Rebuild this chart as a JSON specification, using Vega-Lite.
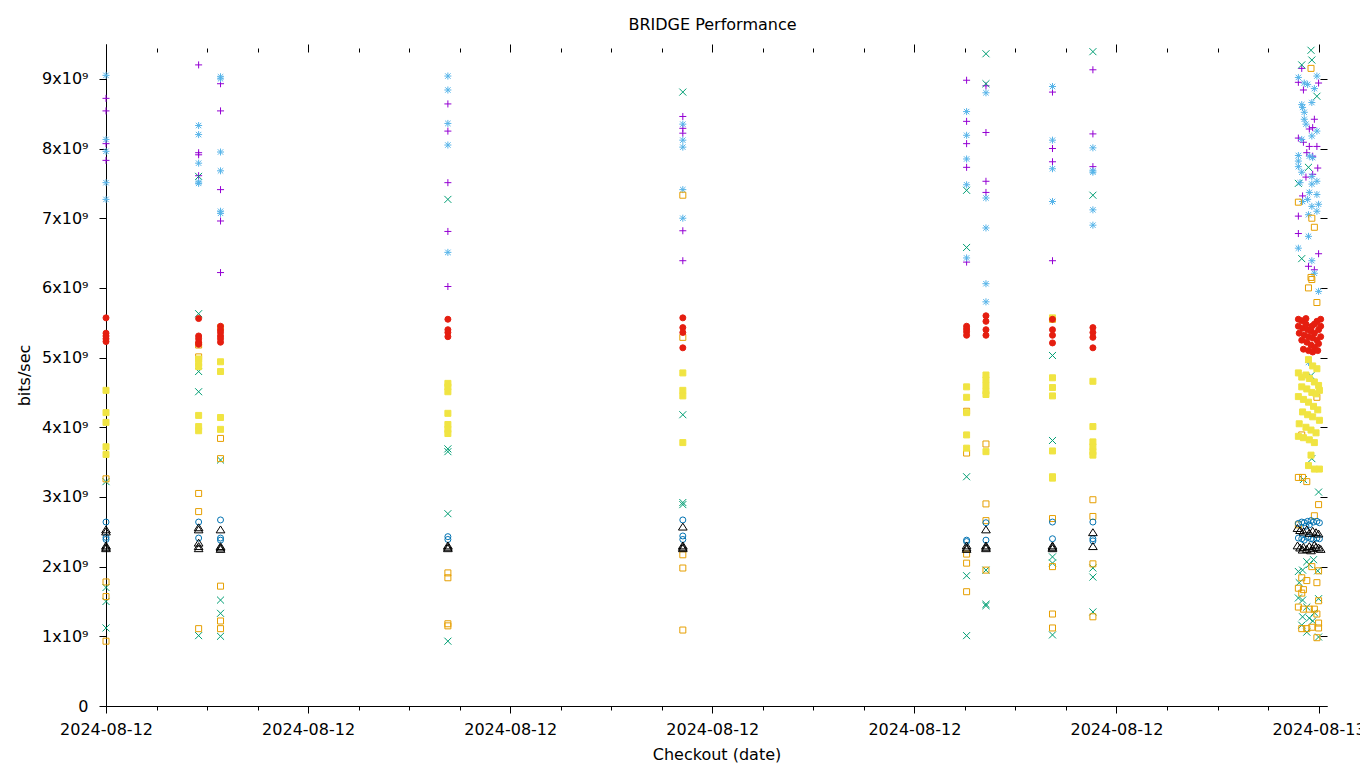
{
  "$schema": "https://vega.github.io/schema/vega-lite/v6.json",
  "width": 1221,
  "height": 662,
  "autosize": {"type": "none"},
  "padding": {"left": 106, "top": 44, "right": 33, "bottom": 62},
  "background": "white",
  "config": {"view": {"stroke": null}, "font": "DejaVu Sans"},
  "title": {"text": "BRIDGE Performance", "font": "DejaVu Sans", "fontSize": 16, "fontWeight": "normal", "color": "black", "anchor": "middle", "dx": -4, "offset": -2, "baseline": "alphabetic"},
  "data": {"values": [
    {"t":"2024-08-12T00:00:00Z","s":"s1","v":8.72e9},{"t":"2024-08-12T00:00:00Z","s":"s1","v":8.54e9},{"t":"2024-08-12T00:00:00Z","s":"s1","v":8.07e9},{"t":"2024-08-12T00:00:00Z","s":"s1","v":7.83e9},
    {"t":"2024-08-12T01:50:00Z","s":"s1","v":9.20e9},{"t":"2024-08-12T01:50:00Z","s":"s1","v":7.94e9},{"t":"2024-08-12T01:50:00Z","s":"s1","v":7.91e9},{"t":"2024-08-12T01:50:00Z","s":"s1","v":7.61e9},
    {"t":"2024-08-12T02:16:00Z","s":"s1","v":8.93e9},{"t":"2024-08-12T02:16:00Z","s":"s1","v":8.54e9},{"t":"2024-08-12T02:16:00Z","s":"s1","v":7.41e9},{"t":"2024-08-12T02:16:00Z","s":"s1","v":6.96e9},{"t":"2024-08-12T02:16:00Z","s":"s1","v":6.22e9},
    {"t":"2024-08-12T06:46:00Z","s":"s1","v":8.64e9},{"t":"2024-08-12T06:46:00Z","s":"s1","v":8.25e9},{"t":"2024-08-12T06:46:00Z","s":"s1","v":7.51e9},{"t":"2024-08-12T06:46:00Z","s":"s1","v":6.81e9},{"t":"2024-08-12T06:46:00Z","s":"s1","v":6.02e9},
    {"t":"2024-08-12T11:25:00Z","s":"s1","v":8.46e9},{"t":"2024-08-12T11:25:00Z","s":"s1","v":8.29e9},{"t":"2024-08-12T11:25:00Z","s":"s1","v":8.22e9},{"t":"2024-08-12T11:25:00Z","s":"s1","v":6.82e9},{"t":"2024-08-12T11:25:00Z","s":"s1","v":6.39e9},
    {"t":"2024-08-12T17:02:00Z","s":"s1","v":8.98e9},{"t":"2024-08-12T17:02:00Z","s":"s1","v":8.39e9},{"t":"2024-08-12T17:02:00Z","s":"s1","v":8.07e9},{"t":"2024-08-12T17:02:00Z","s":"s1","v":7.73e9},{"t":"2024-08-12T17:02:00Z","s":"s1","v":6.37e9},
    {"t":"2024-08-12T17:25:00Z","s":"s1","v":8.90e9},{"t":"2024-08-12T17:25:00Z","s":"s1","v":8.23e9},{"t":"2024-08-12T17:25:00Z","s":"s1","v":7.53e9},{"t":"2024-08-12T17:25:00Z","s":"s1","v":7.37e9},
    {"t":"2024-08-12T18:44:00Z","s":"s1","v":8.81e9},{"t":"2024-08-12T18:44:00Z","s":"s1","v":8.00e9},{"t":"2024-08-12T18:44:00Z","s":"s1","v":7.81e9},{"t":"2024-08-12T18:44:00Z","s":"s1","v":6.39e9},
    {"t":"2024-08-12T19:32:00Z","s":"s1","v":9.13e9},{"t":"2024-08-12T19:32:00Z","s":"s1","v":8.21e9},{"t":"2024-08-12T19:32:00Z","s":"s1","v":7.74e9},
    {"t":"2024-08-12T23:40:00Z","s":"s1","v":9.15e9},{"t":"2024-08-13T00:00:00Z","s":"s1","v":8.94e9},{"t":"2024-08-12T23:42:00Z","s":"s1","v":8.84e9},{"t":"2024-08-12T23:36:00Z","s":"s1","v":8.95e9},{"t":"2024-08-12T23:55:00Z","s":"s1","v":8.42e9},{"t":"2024-08-12T23:49:00Z","s":"s1","v":8.28e9},{"t":"2024-08-12T23:53:00Z","s":"s1","v":8.30e9},{"t":"2024-08-12T23:36:00Z","s":"s1","v":8.15e9},{"t":"2024-08-12T23:42:00Z","s":"s1","v":8.09e9},{"t":"2024-08-12T23:49:00Z","s":"s1","v":8.03e9},{"t":"2024-08-12T23:58:00Z","s":"s1","v":8.03e9},{"t":"2024-08-12T23:46:00Z","s":"s1","v":7.94e9},{"t":"2024-08-12T23:53:00Z","s":"s1","v":7.89e9},{"t":"2024-08-12T23:59:00Z","s":"s1","v":7.72e9},{"t":"2024-08-12T23:45:00Z","s":"s1","v":7.59e9},{"t":"2024-08-12T23:53:00Z","s":"s1","v":7.63e9},{"t":"2024-08-12T23:41:00Z","s":"s1","v":7.32e9},{"t":"2024-08-12T23:36:00Z","s":"s1","v":7.03e9},{"t":"2024-08-12T23:36:00Z","s":"s1","v":6.78e9},{"t":"2024-08-13T00:00:00Z","s":"s1","v":6.49e9},{"t":"2024-08-12T23:48:00Z","s":"s1","v":6.31e9},{"t":"2024-08-12T23:55:00Z","s":"s1","v":6.26e9},

    {"t":"2024-08-12T00:00:00Z","s":"s2","v":3.22e9},{"t":"2024-08-12T00:00:00Z","s":"s2","v":1.70e9},{"t":"2024-08-12T00:00:00Z","s":"s2","v":1.50e9},{"t":"2024-08-12T00:00:00Z","s":"s2","v":1.12e9},
    {"t":"2024-08-12T01:50:00Z","s":"s2","v":7.60e9},{"t":"2024-08-12T01:50:00Z","s":"s2","v":5.63e9},{"t":"2024-08-12T01:50:00Z","s":"s2","v":4.80e9},{"t":"2024-08-12T01:50:00Z","s":"s2","v":4.51e9},{"t":"2024-08-12T01:50:00Z","s":"s2","v":1.01e9},
    {"t":"2024-08-12T02:16:00Z","s":"s2","v":3.53e9},{"t":"2024-08-12T02:16:00Z","s":"s2","v":1.52e9},{"t":"2024-08-12T02:16:00Z","s":"s2","v":1.33e9},{"t":"2024-08-12T02:16:00Z","s":"s2","v":1.00e9},
    {"t":"2024-08-12T06:46:00Z","s":"s2","v":7.27e9},{"t":"2024-08-12T06:46:00Z","s":"s2","v":3.69e9},{"t":"2024-08-12T06:46:00Z","s":"s2","v":3.65e9},{"t":"2024-08-12T06:46:00Z","s":"s2","v":2.76e9},{"t":"2024-08-12T06:46:00Z","s":"s2","v":0.93e9},
    {"t":"2024-08-12T11:25:00Z","s":"s2","v":8.81e9},{"t":"2024-08-12T11:25:00Z","s":"s2","v":4.18e9},{"t":"2024-08-12T11:25:00Z","s":"s2","v":2.92e9},{"t":"2024-08-12T11:25:00Z","s":"s2","v":2.89e9},
    {"t":"2024-08-12T17:02:00Z","s":"s2","v":7.40e9},{"t":"2024-08-12T17:02:00Z","s":"s2","v":6.58e9},{"t":"2024-08-12T17:02:00Z","s":"s2","v":3.29e9},{"t":"2024-08-12T17:02:00Z","s":"s2","v":1.87e9},{"t":"2024-08-12T17:02:00Z","s":"s2","v":1.01e9},
    {"t":"2024-08-12T17:25:00Z","s":"s2","v":9.36e9},{"t":"2024-08-12T17:25:00Z","s":"s2","v":8.93e9},{"t":"2024-08-12T17:25:00Z","s":"s2","v":1.95e9},{"t":"2024-08-12T17:25:00Z","s":"s2","v":1.46e9},{"t":"2024-08-12T17:25:00Z","s":"s2","v":1.44e9},
    {"t":"2024-08-12T18:44:00Z","s":"s2","v":5.03e9},{"t":"2024-08-12T18:44:00Z","s":"s2","v":3.81e9},{"t":"2024-08-12T18:44:00Z","s":"s2","v":2.14e9},{"t":"2024-08-12T18:44:00Z","s":"s2","v":2.05e9},{"t":"2024-08-12T18:44:00Z","s":"s2","v":1.02e9},
    {"t":"2024-08-12T19:32:00Z","s":"s2","v":9.39e9},{"t":"2024-08-12T19:32:00Z","s":"s2","v":7.33e9},{"t":"2024-08-12T19:32:00Z","s":"s2","v":1.98e9},{"t":"2024-08-12T19:32:00Z","s":"s2","v":1.85e9},{"t":"2024-08-12T19:32:00Z","s":"s2","v":1.35e9},
    {"t":"2024-08-12T23:51:00Z","s":"s2","v":9.41e9},{"t":"2024-08-12T23:52:00Z","s":"s2","v":9.27e9},{"t":"2024-08-12T23:40:00Z","s":"s2","v":9.20e9},{"t":"2024-08-12T23:58:00Z","s":"s2","v":8.75e9},{"t":"2024-08-12T23:36:00Z","s":"s2","v":7.50e9},{"t":"2024-08-12T23:48:00Z","s":"s2","v":7.73e9},{"t":"2024-08-12T23:40:00Z","s":"s2","v":6.42e9},{"t":"2024-08-12T23:51:00Z","s":"s2","v":4.74e9},{"t":"2024-08-12T23:52:00Z","s":"s2","v":3.55e9},{"t":"2024-08-13T00:00:00Z","s":"s2","v":3.07e9},{"t":"2024-08-12T23:42:00Z","s":"s2","v":3.25e9},{"t":"2024-08-12T23:41:00Z","s":"s2","v":1.95e9},{"t":"2024-08-12T23:36:00Z","s":"s2","v":1.93e9},{"t":"2024-08-12T23:59:00Z","s":"s2","v":1.94e9},{"t":"2024-08-12T23:54:00Z","s":"s2","v":2.10e9},{"t":"2024-08-12T23:49:00Z","s":"s2","v":2.03e9},{"t":"2024-08-12T23:46:00Z","s":"s2","v":2.07e9},{"t":"2024-08-12T23:37:00Z","s":"s2","v":1.77e9},{"t":"2024-08-12T23:41:00Z","s":"s2","v":1.52e9},{"t":"2024-08-12T23:36:00Z","s":"s2","v":1.55e9},{"t":"2024-08-12T23:46:00Z","s":"s2","v":1.42e9},{"t":"2024-08-12T23:55:00Z","s":"s2","v":1.34e9},{"t":"2024-08-12T23:41:00Z","s":"s2","v":1.28e9},{"t":"2024-08-12T23:49:00Z","s":"s2","v":1.26e9},{"t":"2024-08-12T23:53:00Z","s":"s2","v":1.22e9},{"t":"2024-08-12T23:40:00Z","s":"s2","v":1.16e9},{"t":"2024-08-12T23:46:00Z","s":"s2","v":1.06e9},{"t":"2024-08-13T00:00:00Z","s":"s2","v":1.54e9},{"t":"2024-08-13T00:00:00Z","s":"s2","v":0.99e9},

    {"t":"2024-08-12T00:00:00Z","s":"s3","v":9.05e9},{"t":"2024-08-12T00:00:00Z","s":"s3","v":8.13e9},{"t":"2024-08-12T00:00:00Z","s":"s3","v":7.96e9},{"t":"2024-08-12T00:00:00Z","s":"s3","v":7.51e9},{"t":"2024-08-12T00:00:00Z","s":"s3","v":7.27e9},
    {"t":"2024-08-12T01:50:00Z","s":"s3","v":8.33e9},{"t":"2024-08-12T01:50:00Z","s":"s3","v":8.20e9},{"t":"2024-08-12T01:50:00Z","s":"s3","v":7.79e9},{"t":"2024-08-12T01:50:00Z","s":"s3","v":7.52e9},{"t":"2024-08-12T01:50:00Z","s":"s3","v":7.50e9},
    {"t":"2024-08-12T02:16:00Z","s":"s3","v":9.03e9},{"t":"2024-08-12T02:16:00Z","s":"s3","v":9.00e9},{"t":"2024-08-12T02:16:00Z","s":"s3","v":7.95e9},{"t":"2024-08-12T02:16:00Z","s":"s3","v":7.68e9},{"t":"2024-08-12T02:16:00Z","s":"s3","v":7.10e9},{"t":"2024-08-12T02:16:00Z","s":"s3","v":7.07e9},
    {"t":"2024-08-12T06:46:00Z","s":"s3","v":9.04e9},{"t":"2024-08-12T06:46:00Z","s":"s3","v":8.84e9},{"t":"2024-08-12T06:46:00Z","s":"s3","v":8.36e9},{"t":"2024-08-12T06:46:00Z","s":"s3","v":8.05e9},{"t":"2024-08-12T06:46:00Z","s":"s3","v":6.51e9},
    {"t":"2024-08-12T11:25:00Z","s":"s3","v":8.35e9},{"t":"2024-08-12T11:25:00Z","s":"s3","v":8.12e9},{"t":"2024-08-12T11:25:00Z","s":"s3","v":8.02e9},{"t":"2024-08-12T11:25:00Z","s":"s3","v":7.41e9},{"t":"2024-08-12T11:25:00Z","s":"s3","v":7.00e9},
    {"t":"2024-08-12T17:02:00Z","s":"s3","v":8.53e9},{"t":"2024-08-12T17:02:00Z","s":"s3","v":8.19e9},{"t":"2024-08-12T17:02:00Z","s":"s3","v":7.85e9},{"t":"2024-08-12T17:02:00Z","s":"s3","v":7.48e9},{"t":"2024-08-12T17:02:00Z","s":"s3","v":6.43e9},
    {"t":"2024-08-12T17:25:00Z","s":"s3","v":8.80e9},{"t":"2024-08-12T17:25:00Z","s":"s3","v":7.29e9},{"t":"2024-08-12T17:25:00Z","s":"s3","v":6.86e9},{"t":"2024-08-12T17:25:00Z","s":"s3","v":6.06e9},{"t":"2024-08-12T17:25:00Z","s":"s3","v":5.80e9},
    {"t":"2024-08-12T18:44:00Z","s":"s3","v":8.89e9},{"t":"2024-08-12T18:44:00Z","s":"s3","v":8.12e9},{"t":"2024-08-12T18:44:00Z","s":"s3","v":7.71e9},{"t":"2024-08-12T18:44:00Z","s":"s3","v":7.24e9},
    {"t":"2024-08-12T19:32:00Z","s":"s3","v":8.01e9},{"t":"2024-08-12T19:32:00Z","s":"s3","v":7.68e9},{"t":"2024-08-12T19:32:00Z","s":"s3","v":7.66e9},{"t":"2024-08-12T19:32:00Z","s":"s3","v":7.12e9},{"t":"2024-08-12T19:32:00Z","s":"s3","v":6.90e9},
    {"t":"2024-08-12T23:36:00Z","s":"s3","v":9.02e9},{"t":"2024-08-12T23:43:00Z","s":"s3","v":8.94e9},{"t":"2024-08-12T23:47:00Z","s":"s3","v":8.92e9},{"t":"2024-08-12T23:58:00Z","s":"s3","v":9.04e9},{"t":"2024-08-12T23:55:00Z","s":"s3","v":8.86e9},{"t":"2024-08-12T23:52:00Z","s":"s3","v":8.66e9},{"t":"2024-08-12T23:40:00Z","s":"s3","v":8.63e9},{"t":"2024-08-12T23:41:00Z","s":"s3","v":8.59e9},{"t":"2024-08-12T23:43:00Z","s":"s3","v":8.52e9},{"t":"2024-08-12T23:43:00Z","s":"s3","v":8.42e9},{"t":"2024-08-12T23:45:00Z","s":"s3","v":8.35e9},{"t":"2024-08-12T23:58:00Z","s":"s3","v":8.25e9},{"t":"2024-08-12T23:52:00Z","s":"s3","v":8.18e9},{"t":"2024-08-12T23:40:00Z","s":"s3","v":8.13e9},{"t":"2024-08-12T23:49:00Z","s":"s3","v":7.89e9},{"t":"2024-08-12T23:36:00Z","s":"s3","v":7.90e9},{"t":"2024-08-12T23:36:00Z","s":"s3","v":7.82e9},{"t":"2024-08-12T23:53:00Z","s":"s3","v":7.87e9},{"t":"2024-08-12T23:36:00Z","s":"s3","v":7.74e9},{"t":"2024-08-12T23:40:00Z","s":"s3","v":7.66e9},{"t":"2024-08-12T23:52:00Z","s":"s3","v":7.60e9},{"t":"2024-08-12T23:58:00Z","s":"s3","v":7.53e9},{"t":"2024-08-12T23:38:00Z","s":"s3","v":7.51e9},{"t":"2024-08-12T23:52:00Z","s":"s3","v":7.49e9},{"t":"2024-08-12T23:49:00Z","s":"s3","v":7.37e9},{"t":"2024-08-12T23:58:00Z","s":"s3","v":7.34e9},{"t":"2024-08-12T23:47:00Z","s":"s3","v":7.27e9},{"t":"2024-08-12T23:41:00Z","s":"s3","v":7.24e9},{"t":"2024-08-13T00:00:00Z","s":"s3","v":7.20e9},{"t":"2024-08-12T23:52:00Z","s":"s3","v":7.17e9},{"t":"2024-08-12T23:58:00Z","s":"s3","v":7.10e9},{"t":"2024-08-12T23:48:00Z","s":"s3","v":7.05e9},{"t":"2024-08-12T23:48:00Z","s":"s3","v":6.74e9},{"t":"2024-08-12T23:36:00Z","s":"s3","v":6.57e9},{"t":"2024-08-12T23:52:00Z","s":"s3","v":6.39e9},{"t":"2024-08-12T23:55:00Z","s":"s3","v":6.21e9},{"t":"2024-08-13T00:00:00Z","s":"s3","v":5.95e9},{"t":"2024-08-12T23:48:00Z","s":"s3","v":4.93e9},

    {"t":"2024-08-12T00:00:00Z","s":"s4","v":3.26e9},{"t":"2024-08-12T00:00:00Z","s":"s4","v":1.78e9},{"t":"2024-08-12T00:00:00Z","s":"s4","v":1.57e9},{"t":"2024-08-12T00:00:00Z","s":"s4","v":0.93e9},
    {"t":"2024-08-12T01:50:00Z","s":"s4","v":5.18e9},{"t":"2024-08-12T01:50:00Z","s":"s4","v":5.01e9},{"t":"2024-08-12T01:50:00Z","s":"s4","v":3.05e9},{"t":"2024-08-12T01:50:00Z","s":"s4","v":2.79e9},{"t":"2024-08-12T01:50:00Z","s":"s4","v":1.11e9},
    {"t":"2024-08-12T02:16:00Z","s":"s4","v":3.84e9},{"t":"2024-08-12T02:16:00Z","s":"s4","v":3.55e9},{"t":"2024-08-12T02:16:00Z","s":"s4","v":1.72e9},{"t":"2024-08-12T02:16:00Z","s":"s4","v":1.22e9},{"t":"2024-08-12T02:16:00Z","s":"s4","v":1.11e9},
    {"t":"2024-08-12T06:46:00Z","s":"s4","v":1.91e9},{"t":"2024-08-12T06:46:00Z","s":"s4","v":1.84e9},{"t":"2024-08-12T06:46:00Z","s":"s4","v":1.18e9},{"t":"2024-08-12T06:46:00Z","s":"s4","v":1.15e9},
    {"t":"2024-08-12T11:25:00Z","s":"s4","v":7.33e9},{"t":"2024-08-12T11:25:00Z","s":"s4","v":5.29e9},{"t":"2024-08-12T11:25:00Z","s":"s4","v":2.17e9},{"t":"2024-08-12T11:25:00Z","s":"s4","v":1.98e9},{"t":"2024-08-12T11:25:00Z","s":"s4","v":1.09e9},
    {"t":"2024-08-12T17:02:00Z","s":"s4","v":4.23e9},{"t":"2024-08-12T17:02:00Z","s":"s4","v":3.63e9},{"t":"2024-08-12T17:02:00Z","s":"s4","v":2.18e9},{"t":"2024-08-12T17:02:00Z","s":"s4","v":2.05e9},{"t":"2024-08-12T17:02:00Z","s":"s4","v":1.64e9},
    {"t":"2024-08-12T17:25:00Z","s":"s4","v":3.76e9},{"t":"2024-08-12T17:25:00Z","s":"s4","v":2.90e9},{"t":"2024-08-12T17:25:00Z","s":"s4","v":2.66e9},{"t":"2024-08-12T17:25:00Z","s":"s4","v":1.95e9},
    {"t":"2024-08-12T18:44:00Z","s":"s4","v":5.55e9},{"t":"2024-08-12T18:44:00Z","s":"s4","v":2.69e9},{"t":"2024-08-12T18:44:00Z","s":"s4","v":2.00e9},{"t":"2024-08-12T18:44:00Z","s":"s4","v":1.32e9},{"t":"2024-08-12T18:44:00Z","s":"s4","v":1.12e9},
    {"t":"2024-08-12T19:32:00Z","s":"s4","v":2.96e9},{"t":"2024-08-12T19:32:00Z","s":"s4","v":2.72e9},{"t":"2024-08-12T19:32:00Z","s":"s4","v":2.04e9},{"t":"2024-08-12T19:32:00Z","s":"s4","v":1.28e9},
    {"t":"2024-08-12T23:51:00Z","s":"s4","v":9.15e9},{"t":"2024-08-12T23:36:00Z","s":"s4","v":7.23e9},{"t":"2024-08-12T23:52:00Z","s":"s4","v":7.00e9},{"t":"2024-08-12T23:55:00Z","s":"s4","v":6.87e9},{"t":"2024-08-12T23:51:00Z","s":"s4","v":6.15e9},{"t":"2024-08-12T23:52:00Z","s":"s4","v":6.12e9},{"t":"2024-08-12T23:48:00Z","s":"s4","v":6.00e9},{"t":"2024-08-12T23:58:00Z","s":"s4","v":5.79e9},{"t":"2024-08-12T23:58:00Z","s":"s4","v":4.43e9},{"t":"2024-08-12T23:40:00Z","s":"s4","v":3.89e9},{"t":"2024-08-12T23:36:00Z","s":"s4","v":3.28e9},{"t":"2024-08-12T23:41:00Z","s":"s4","v":3.28e9},{"t":"2024-08-12T23:46:00Z","s":"s4","v":3.22e9},{"t":"2024-08-13T00:00:00Z","s":"s4","v":2.89e9},{"t":"2024-08-12T23:55:00Z","s":"s4","v":2.73e9},{"t":"2024-08-12T23:36:00Z","s":"s4","v":2.60e9},{"t":"2024-08-12T23:52:00Z","s":"s4","v":2.00e9},{"t":"2024-08-13T00:00:00Z","s":"s4","v":1.94e9},{"t":"2024-08-12T23:40:00Z","s":"s4","v":1.84e9},{"t":"2024-08-12T23:46:00Z","s":"s4","v":1.80e9},{"t":"2024-08-12T23:58:00Z","s":"s4","v":1.77e9},{"t":"2024-08-12T23:36:00Z","s":"s4","v":1.69e9},{"t":"2024-08-12T23:42:00Z","s":"s4","v":1.67e9},{"t":"2024-08-12T23:40:00Z","s":"s4","v":1.62e9},{"t":"2024-08-13T00:00:00Z","s":"s4","v":1.51e9},{"t":"2024-08-12T23:36:00Z","s":"s4","v":1.42e9},{"t":"2024-08-12T23:42:00Z","s":"s4","v":1.39e9},{"t":"2024-08-12T23:49:00Z","s":"s4","v":1.39e9},{"t":"2024-08-12T23:55:00Z","s":"s4","v":1.39e9},{"t":"2024-08-12T23:58:00Z","s":"s4","v":1.32e9},{"t":"2024-08-12T23:40:00Z","s":"s4","v":1.11e9},{"t":"2024-08-12T23:46:00Z","s":"s4","v":1.11e9},{"t":"2024-08-12T23:52:00Z","s":"s4","v":1.13e9},{"t":"2024-08-13T00:00:00Z","s":"s4","v":1.19e9},{"t":"2024-08-13T00:00:00Z","s":"s4","v":1.12e9},{"t":"2024-08-12T23:58:00Z","s":"s4","v":0.98e9},

    {"t":"2024-08-12T00:00:00Z","s":"s5","v":4.53e9},{"t":"2024-08-12T00:00:00Z","s":"s5","v":4.21e9},{"t":"2024-08-12T00:00:00Z","s":"s5","v":4.07e9},{"t":"2024-08-12T00:00:00Z","s":"s5","v":3.72e9},{"t":"2024-08-12T00:00:00Z","s":"s5","v":3.61e9},
    {"t":"2024-08-12T01:50:00Z","s":"s5","v":4.98e9},{"t":"2024-08-12T01:50:00Z","s":"s5","v":4.92e9},{"t":"2024-08-12T01:50:00Z","s":"s5","v":4.87e9},{"t":"2024-08-12T01:50:00Z","s":"s5","v":4.17e9},{"t":"2024-08-12T01:50:00Z","s":"s5","v":4.01e9},{"t":"2024-08-12T01:50:00Z","s":"s5","v":3.95e9},
    {"t":"2024-08-12T02:16:00Z","s":"s5","v":5.43e9},{"t":"2024-08-12T02:16:00Z","s":"s5","v":4.94e9},{"t":"2024-08-12T02:16:00Z","s":"s5","v":4.80e9},{"t":"2024-08-12T02:16:00Z","s":"s5","v":4.14e9},{"t":"2024-08-12T02:16:00Z","s":"s5","v":3.97e9},
    {"t":"2024-08-12T06:46:00Z","s":"s5","v":4.63e9},{"t":"2024-08-12T06:46:00Z","s":"s5","v":4.58e9},{"t":"2024-08-12T06:46:00Z","s":"s5","v":4.51e9},{"t":"2024-08-12T06:46:00Z","s":"s5","v":4.20e9},{"t":"2024-08-12T06:46:00Z","s":"s5","v":4.04e9},{"t":"2024-08-12T06:46:00Z","s":"s5","v":3.97e9},{"t":"2024-08-12T06:46:00Z","s":"s5","v":3.91e9},
    {"t":"2024-08-12T11:25:00Z","s":"s5","v":4.78e9},{"t":"2024-08-12T11:25:00Z","s":"s5","v":4.53e9},{"t":"2024-08-12T11:25:00Z","s":"s5","v":4.45e9},{"t":"2024-08-12T11:25:00Z","s":"s5","v":3.78e9},
    {"t":"2024-08-12T17:02:00Z","s":"s5","v":4.58e9},{"t":"2024-08-12T17:02:00Z","s":"s5","v":4.43e9},{"t":"2024-08-12T17:02:00Z","s":"s5","v":4.21e9},{"t":"2024-08-12T17:02:00Z","s":"s5","v":3.89e9},{"t":"2024-08-12T17:02:00Z","s":"s5","v":3.70e9},
    {"t":"2024-08-12T17:25:00Z","s":"s5","v":4.75e9},{"t":"2024-08-12T17:25:00Z","s":"s5","v":4.68e9},{"t":"2024-08-12T17:25:00Z","s":"s5","v":4.60e9},{"t":"2024-08-12T17:25:00Z","s":"s5","v":4.52e9},{"t":"2024-08-12T17:25:00Z","s":"s5","v":4.47e9},{"t":"2024-08-12T17:25:00Z","s":"s5","v":3.65e9},
    {"t":"2024-08-12T18:44:00Z","s":"s5","v":5.57e9},{"t":"2024-08-12T18:44:00Z","s":"s5","v":4.71e9},{"t":"2024-08-12T18:44:00Z","s":"s5","v":4.57e9},{"t":"2024-08-12T18:44:00Z","s":"s5","v":4.45e9},{"t":"2024-08-12T18:44:00Z","s":"s5","v":3.66e9},{"t":"2024-08-12T18:44:00Z","s":"s5","v":3.29e9},{"t":"2024-08-12T18:44:00Z","s":"s5","v":3.27e9},
    {"t":"2024-08-12T19:32:00Z","s":"s5","v":4.66e9},{"t":"2024-08-12T19:32:00Z","s":"s5","v":4.01e9},{"t":"2024-08-12T19:32:00Z","s":"s5","v":3.79e9},{"t":"2024-08-12T19:32:00Z","s":"s5","v":3.72e9},{"t":"2024-08-12T19:32:00Z","s":"s5","v":3.65e9},{"t":"2024-08-12T19:32:00Z","s":"s5","v":3.60e9},
    {"t":"2024-08-12T23:48:00Z","s":"s5","v":4.97e9},{"t":"2024-08-12T23:53:00Z","s":"s5","v":4.88e9},{"t":"2024-08-12T23:58:00Z","s":"s5","v":4.84e9},{"t":"2024-08-12T23:36:00Z","s":"s5","v":4.78e9},{"t":"2024-08-12T23:40:00Z","s":"s5","v":4.72e9},{"t":"2024-08-12T23:45:00Z","s":"s5","v":4.75e9},{"t":"2024-08-12T23:49:00Z","s":"s5","v":4.70e9},{"t":"2024-08-12T23:55:00Z","s":"s5","v":4.65e9},{"t":"2024-08-13T00:00:00Z","s":"s5","v":4.60e9},{"t":"2024-08-12T23:40:00Z","s":"s5","v":4.58e9},{"t":"2024-08-12T23:46:00Z","s":"s5","v":4.55e9},{"t":"2024-08-12T23:52:00Z","s":"s5","v":4.50e9},{"t":"2024-08-12T23:57:00Z","s":"s5","v":4.48e9},{"t":"2024-08-13T00:01:00Z","s":"s5","v":4.53e9},{"t":"2024-08-12T23:36:00Z","s":"s5","v":4.44e9},{"t":"2024-08-12T23:42:00Z","s":"s5","v":4.40e9},{"t":"2024-08-12T23:48:00Z","s":"s5","v":4.36e9},{"t":"2024-08-12T23:54:00Z","s":"s5","v":4.30e9},{"t":"2024-08-12T23:59:00Z","s":"s5","v":4.25e9},{"t":"2024-08-12T23:41:00Z","s":"s5","v":4.22e9},{"t":"2024-08-12T23:47:00Z","s":"s5","v":4.18e9},{"t":"2024-08-12T23:53:00Z","s":"s5","v":4.15e9},{"t":"2024-08-13T00:01:00Z","s":"s5","v":4.10e9},{"t":"2024-08-12T23:37:00Z","s":"s5","v":4.05e9},{"t":"2024-08-12T23:45:00Z","s":"s5","v":4.00e9},{"t":"2024-08-12T23:51:00Z","s":"s5","v":3.96e9},{"t":"2024-08-12T23:57:00Z","s":"s5","v":3.92e9},{"t":"2024-08-12T23:36:00Z","s":"s5","v":3.87e9},{"t":"2024-08-12T23:42:00Z","s":"s5","v":3.85e9},{"t":"2024-08-12T23:49:00Z","s":"s5","v":3.82e9},{"t":"2024-08-12T23:55:00Z","s":"s5","v":3.78e9},{"t":"2024-08-12T23:51:00Z","s":"s5","v":3.60e9},{"t":"2024-08-12T23:48:00Z","s":"s5","v":3.45e9},{"t":"2024-08-12T23:55:00Z","s":"s5","v":3.40e9},{"t":"2024-08-13T00:01:00Z","s":"s5","v":3.40e9},

    {"t":"2024-08-12T00:00:00Z","s":"s6","v":2.64e9},{"t":"2024-08-12T00:00:00Z","s":"s6","v":2.42e9},{"t":"2024-08-12T00:00:00Z","s":"s6","v":2.39e9},
    {"t":"2024-08-12T01:50:00Z","s":"s6","v":2.64e9},{"t":"2024-08-12T01:50:00Z","s":"s6","v":2.41e9},
    {"t":"2024-08-12T02:16:00Z","s":"s6","v":2.67e9},{"t":"2024-08-12T02:16:00Z","s":"s6","v":2.41e9},{"t":"2024-08-12T02:16:00Z","s":"s6","v":2.38e9},
    {"t":"2024-08-12T06:46:00Z","s":"s6","v":2.43e9},{"t":"2024-08-12T06:46:00Z","s":"s6","v":2.39e9},
    {"t":"2024-08-12T11:25:00Z","s":"s6","v":2.67e9},{"t":"2024-08-12T11:25:00Z","s":"s6","v":2.44e9},{"t":"2024-08-12T11:25:00Z","s":"s6","v":2.39e9},
    {"t":"2024-08-12T17:02:00Z","s":"s6","v":2.38e9},{"t":"2024-08-12T17:02:00Z","s":"s6","v":2.36e9},
    {"t":"2024-08-12T17:25:00Z","s":"s6","v":2.63e9},{"t":"2024-08-12T17:25:00Z","s":"s6","v":2.38e9},
    {"t":"2024-08-12T18:44:00Z","s":"s6","v":2.64e9},{"t":"2024-08-12T18:44:00Z","s":"s6","v":2.40e9},
    {"t":"2024-08-12T19:32:00Z","s":"s6","v":2.64e9},{"t":"2024-08-12T19:32:00Z","s":"s6","v":2.40e9},{"t":"2024-08-12T19:32:00Z","s":"s6","v":2.37e9},
    {"t":"2024-08-12T23:36:00Z","s":"s6","v":2.62e9},{"t":"2024-08-12T23:40:00Z","s":"s6","v":2.64e9},{"t":"2024-08-12T23:43:00Z","s":"s6","v":2.63e9},{"t":"2024-08-12T23:47:00Z","s":"s6","v":2.65e9},{"t":"2024-08-12T23:51:00Z","s":"s6","v":2.66e9},{"t":"2024-08-12T23:54:00Z","s":"s6","v":2.64e9},{"t":"2024-08-12T23:58:00Z","s":"s6","v":2.65e9},{"t":"2024-08-13T00:01:00Z","s":"s6","v":2.63e9},{"t":"2024-08-12T23:36:00Z","s":"s6","v":2.41e9},{"t":"2024-08-12T23:40:00Z","s":"s6","v":2.40e9},{"t":"2024-08-12T23:43:00Z","s":"s6","v":2.38e9},{"t":"2024-08-12T23:47:00Z","s":"s6","v":2.42e9},{"t":"2024-08-12T23:51:00Z","s":"s6","v":2.40e9},{"t":"2024-08-12T23:54:00Z","s":"s6","v":2.39e9},{"t":"2024-08-12T23:58:00Z","s":"s6","v":2.41e9},{"t":"2024-08-13T00:01:00Z","s":"s6","v":2.40e9},{"t":"2024-08-12T23:49:00Z","s":"s6","v":2.60e9},{"t":"2024-08-12T23:45:00Z","s":"s6","v":2.58e9},

    {"t":"2024-08-12T00:00:00Z","s":"s7","v":5.57e9},{"t":"2024-08-12T00:00:00Z","s":"s7","v":5.35e9},{"t":"2024-08-12T00:00:00Z","s":"s7","v":5.31e9},{"t":"2024-08-12T00:00:00Z","s":"s7","v":5.27e9},{"t":"2024-08-12T00:00:00Z","s":"s7","v":5.23e9},
    {"t":"2024-08-12T01:50:00Z","s":"s7","v":5.56e9},{"t":"2024-08-12T01:50:00Z","s":"s7","v":5.31e9},{"t":"2024-08-12T01:50:00Z","s":"s7","v":5.27e9},{"t":"2024-08-12T01:50:00Z","s":"s7","v":5.22e9},{"t":"2024-08-12T01:50:00Z","s":"s7","v":5.19e9},
    {"t":"2024-08-12T02:16:00Z","s":"s7","v":5.45e9},{"t":"2024-08-12T02:16:00Z","s":"s7","v":5.40e9},{"t":"2024-08-12T02:16:00Z","s":"s7","v":5.36e9},{"t":"2024-08-12T02:16:00Z","s":"s7","v":5.31e9},{"t":"2024-08-12T02:16:00Z","s":"s7","v":5.27e9},{"t":"2024-08-12T02:16:00Z","s":"s7","v":5.22e9},
    {"t":"2024-08-12T06:46:00Z","s":"s7","v":5.55e9},{"t":"2024-08-12T06:46:00Z","s":"s7","v":5.40e9},{"t":"2024-08-12T06:46:00Z","s":"s7","v":5.36e9},{"t":"2024-08-12T06:46:00Z","s":"s7","v":5.30e9},
    {"t":"2024-08-12T11:25:00Z","s":"s7","v":5.57e9},{"t":"2024-08-12T11:25:00Z","s":"s7","v":5.43e9},{"t":"2024-08-12T11:25:00Z","s":"s7","v":5.36e9},{"t":"2024-08-12T11:25:00Z","s":"s7","v":5.14e9},
    {"t":"2024-08-12T17:02:00Z","s":"s7","v":5.45e9},{"t":"2024-08-12T17:02:00Z","s":"s7","v":5.41e9},{"t":"2024-08-12T17:02:00Z","s":"s7","v":5.37e9},{"t":"2024-08-12T17:02:00Z","s":"s7","v":5.32e9},
    {"t":"2024-08-12T17:25:00Z","s":"s7","v":5.60e9},{"t":"2024-08-12T17:25:00Z","s":"s7","v":5.52e9},{"t":"2024-08-12T17:25:00Z","s":"s7","v":5.40e9},{"t":"2024-08-12T17:25:00Z","s":"s7","v":5.32e9},
    {"t":"2024-08-12T18:44:00Z","s":"s7","v":5.55e9},{"t":"2024-08-12T18:44:00Z","s":"s7","v":5.40e9},{"t":"2024-08-12T18:44:00Z","s":"s7","v":5.32e9},{"t":"2024-08-12T18:44:00Z","s":"s7","v":5.21e9},
    {"t":"2024-08-12T19:32:00Z","s":"s7","v":5.43e9},{"t":"2024-08-12T19:32:00Z","s":"s7","v":5.36e9},{"t":"2024-08-12T19:32:00Z","s":"s7","v":5.29e9},{"t":"2024-08-12T19:32:00Z","s":"s7","v":5.14e9},
    {"t":"2024-08-12T23:36:00Z","s":"s7","v":5.55e9},{"t":"2024-08-12T23:40:00Z","s":"s7","v":5.53e9},{"t":"2024-08-12T23:45:00Z","s":"s7","v":5.56e9},{"t":"2024-08-12T23:58:00Z","s":"s7","v":5.52e9},{"t":"2024-08-12T23:55:00Z","s":"s7","v":5.48e9},{"t":"2024-08-12T23:36:00Z","s":"s7","v":5.45e9},{"t":"2024-08-12T23:41:00Z","s":"s7","v":5.42e9},{"t":"2024-08-12T23:47:00Z","s":"s7","v":5.40e9},{"t":"2024-08-12T23:51:00Z","s":"s7","v":5.38e9},{"t":"2024-08-12T23:55:00Z","s":"s7","v":5.35e9},{"t":"2024-08-13T00:00:00Z","s":"s7","v":5.40e9},{"t":"2024-08-13T00:02:30Z","s":"s7","v":5.45e9},{"t":"2024-08-12T23:37:00Z","s":"s7","v":5.35e9},{"t":"2024-08-12T23:43:00Z","s":"s7","v":5.32e9},{"t":"2024-08-12T23:48:00Z","s":"s7","v":5.30e9},{"t":"2024-08-12T23:53:00Z","s":"s7","v":5.28e9},{"t":"2024-08-12T23:58:00Z","s":"s7","v":5.25e9},{"t":"2024-08-13T00:02:30Z","s":"s7","v":5.30e9},{"t":"2024-08-12T23:40:00Z","s":"s7","v":5.25e9},{"t":"2024-08-12T23:46:00Z","s":"s7","v":5.22e9},{"t":"2024-08-12T23:51:00Z","s":"s7","v":5.18e9},{"t":"2024-08-12T23:55:00Z","s":"s7","v":5.15e9},{"t":"2024-08-13T00:00:00Z","s":"s7","v":5.20e9},{"t":"2024-08-12T23:42:00Z","s":"s7","v":5.12e9},{"t":"2024-08-12T23:48:00Z","s":"s7","v":5.10e9},{"t":"2024-08-12T23:53:00Z","s":"s7","v":5.08e9},{"t":"2024-08-12T23:59:00Z","s":"s7","v":5.10e9},{"t":"2024-08-13T00:02:30Z","s":"s7","v":5.55e9},{"t":"2024-08-12T23:52:00Z","s":"s7","v":5.45e9},{"t":"2024-08-12T23:45:00Z","s":"s7","v":5.48e9},

    {"t":"2024-08-12T00:00:00Z","s":"s8","v":2.53e9},{"t":"2024-08-12T00:00:00Z","s":"s8","v":2.50e9},{"t":"2024-08-12T00:00:00Z","s":"s8","v":2.30e9},{"t":"2024-08-12T00:00:00Z","s":"s8","v":2.28e9},{"t":"2024-08-12T00:00:00Z","s":"s8","v":2.26e9},
    {"t":"2024-08-12T01:50:00Z","s":"s8","v":2.56e9},{"t":"2024-08-12T01:50:00Z","s":"s8","v":2.53e9},{"t":"2024-08-12T01:50:00Z","s":"s8","v":2.34e9},{"t":"2024-08-12T01:50:00Z","s":"s8","v":2.29e9},{"t":"2024-08-12T01:50:00Z","s":"s8","v":2.26e9},
    {"t":"2024-08-12T02:16:00Z","s":"s8","v":2.53e9},{"t":"2024-08-12T02:16:00Z","s":"s8","v":2.29e9},{"t":"2024-08-12T02:16:00Z","s":"s8","v":2.27e9},{"t":"2024-08-12T02:16:00Z","s":"s8","v":2.25e9},
    {"t":"2024-08-12T06:46:00Z","s":"s8","v":2.30e9},{"t":"2024-08-12T06:46:00Z","s":"s8","v":2.28e9},{"t":"2024-08-12T06:46:00Z","s":"s8","v":2.26e9},
    {"t":"2024-08-12T11:25:00Z","s":"s8","v":2.57e9},{"t":"2024-08-12T11:25:00Z","s":"s8","v":2.30e9},{"t":"2024-08-12T11:25:00Z","s":"s8","v":2.28e9},{"t":"2024-08-12T11:25:00Z","s":"s8","v":2.26e9},
    {"t":"2024-08-12T17:02:00Z","s":"s8","v":2.30e9},{"t":"2024-08-12T17:02:00Z","s":"s8","v":2.27e9},{"t":"2024-08-12T17:02:00Z","s":"s8","v":2.25e9},
    {"t":"2024-08-12T17:25:00Z","s":"s8","v":2.53e9},{"t":"2024-08-12T17:25:00Z","s":"s8","v":2.30e9},{"t":"2024-08-12T17:25:00Z","s":"s8","v":2.28e9},{"t":"2024-08-12T17:25:00Z","s":"s8","v":2.26e9},
    {"t":"2024-08-12T18:44:00Z","s":"s8","v":2.30e9},{"t":"2024-08-12T18:44:00Z","s":"s8","v":2.28e9},{"t":"2024-08-12T18:44:00Z","s":"s8","v":2.26e9},
    {"t":"2024-08-12T19:32:00Z","s":"s8","v":2.49e9},{"t":"2024-08-12T19:32:00Z","s":"s8","v":2.29e9},
    {"t":"2024-08-12T23:35:00Z","s":"s8","v":2.55e9},{"t":"2024-08-12T23:38:00Z","s":"s8","v":2.52e9},{"t":"2024-08-12T23:42:00Z","s":"s8","v":2.50e9},{"t":"2024-08-12T23:46:00Z","s":"s8","v":2.53e9},{"t":"2024-08-12T23:49:00Z","s":"s8","v":2.48e9},{"t":"2024-08-12T23:53:00Z","s":"s8","v":2.51e9},{"t":"2024-08-12T23:57:00Z","s":"s8","v":2.49e9},{"t":"2024-08-13T00:00:00Z","s":"s8","v":2.47e9},{"t":"2024-08-12T23:35:00Z","s":"s8","v":2.30e9},{"t":"2024-08-12T23:38:00Z","s":"s8","v":2.27e9},{"t":"2024-08-12T23:42:00Z","s":"s8","v":2.28e9},{"t":"2024-08-12T23:46:00Z","s":"s8","v":2.25e9},{"t":"2024-08-12T23:49:00Z","s":"s8","v":2.29e9},{"t":"2024-08-12T23:53:00Z","s":"s8","v":2.26e9},{"t":"2024-08-12T23:57:00Z","s":"s8","v":2.28e9},{"t":"2024-08-13T00:00:00Z","s":"s8","v":2.27e9},{"t":"2024-08-13T00:02:30Z","s":"s8","v":2.25e9},{"t":"2024-08-12T23:41:00Z","s":"s8","v":2.24e9},{"t":"2024-08-12T23:51:00Z","s":"s8","v":2.23e9},{"t":"2024-08-12T23:55:00Z","s":"s8","v":2.31e9}
  ]},
  "resolve": {"axis": {"x": "independent", "y": "independent"}},
  "layer": [
    {
      "mark": {"type": "point", "filled": false, "size": 36, "strokeWidth": 1, "opacity": 1},
      "encoding": {
        "x": {"field": "t", "type": "temporal",
          "scale": {"type": "utc", "domain": [{"year": 2024, "month": 8, "date": 12, "hours": 0, "utc": true}, {"year": 2024, "month": 8, "date": 13, "hours": 0, "minutes": 10, "utc": true}]},
          "axis": {"orient": "bottom", "title": "Checkout (date)", "labelExpr": "utcFormat(datum.value, '%Y-%m-%d')",
            "values": [{"year": 2024, "month": 8, "date": 12, "hours": 0, "utc": true}, {"year": 2024, "month": 8, "date": 12, "hours": 4, "utc": true}, {"year": 2024, "month": 8, "date": 12, "hours": 8, "utc": true}, {"year": 2024, "month": 8, "date": 12, "hours": 12, "utc": true}, {"year": 2024, "month": 8, "date": 12, "hours": 16, "utc": true}, {"year": 2024, "month": 8, "date": 12, "hours": 20, "utc": true}, {"year": 2024, "month": 8, "date": 13, "hours": 0, "utc": true}],
            "grid": false, "tickSize": 7, "tickColor": "black", "domainColor": "black", "labelColor": "black", "titleColor": "black",
            "labelFont": "DejaVu Sans", "labelFontSize": 16, "titleFont": "DejaVu Sans", "titleFontSize": 16, "titleFontWeight": "normal",
            "labelPadding": 8, "titlePadding": 9, "labelFlush": false, "labelOverlap": false}},
        "y": {"field": "v", "type": "quantitative",
          "scale": {"domain": [0, 9500000000], "nice": false},
          "axis": {"orient": "left", "title": "bits/sec", "values": [0, 1000000000, 2000000000, 3000000000, 4000000000, 5000000000, 6000000000, 7000000000, 8000000000, 9000000000],
            "labelExpr": "datum.value == 0 ? '0' : format(datum.value / 1e9, 'd') + 'x10⁹'",
            "grid": false, "tickSize": 7, "tickColor": "black", "domainColor": "black", "labelColor": "black", "titleColor": "black",
            "labelFont": "DejaVu Sans", "labelFontSize": 16, "titleFont": "DejaVu Sans", "titleFontSize": 16, "titleFontWeight": "normal",
            "labelPadding": 11, "titlePadding": 9}},
        "shape": {"field": "s", "type": "nominal", "legend": null,
          "scale": {"domain": ["s1", "s2", "s3", "s4", "s5", "s6", "s7", "s8"],
            "range": ["M-1.17,0L1.17,0M0,-1.17L0,1.17", "M-1.17,-1.17L1.17,1.17M-1.17,1.17L1.17,-1.17", "M-1.17,0L1.17,0M0,-1.17L0,1.17M-0.9,-0.9L0.9,0.9M-0.9,0.9L0.9,-0.9", "square", "square", "circle", "circle", "M0,-1.25L1.45,1.05L-1.45,1.05Z"]}},
        "stroke": {"field": "s", "type": "nominal", "legend": null,
          "scale": {"domain": ["s1", "s2", "s3", "s4", "s5", "s6", "s7", "s8"],
            "range": ["#9400d3", "#009e73", "#56b4e9", "#e69f00", "#f0e442", "#0072b2", "#e51e10", "#000000"]}},
        "fill": {"field": "s", "type": "nominal", "legend": null,
          "scale": {"domain": ["s1", "s2", "s3", "s4", "s5", "s6", "s7", "s8"],
            "range": ["transparent", "transparent", "transparent", "transparent", "#f0e442", "transparent", "#e51e10", "transparent"]}}
      }
    },
    {
      "mark": {"type": "point", "opacity": 0},
      "encoding": {
        "x": {"field": "t", "type": "temporal",
          "scale": {"type": "utc", "domain": [{"year": 2024, "month": 8, "date": 12, "hours": 0, "utc": true}, {"year": 2024, "month": 8, "date": 13, "hours": 0, "minutes": 10, "utc": true}]},
          "axis": {"orient": "bottom", "title": null, "labels": false, "domain": false, "grid": false, "tickSize": 4, "tickColor": "black",
            "values": [{"year": 2024, "month": 8, "date": 12, "hours": 1, "utc": true}, {"year": 2024, "month": 8, "date": 12, "hours": 2, "utc": true}, {"year": 2024, "month": 8, "date": 12, "hours": 3, "utc": true}, {"year": 2024, "month": 8, "date": 12, "hours": 5, "utc": true}, {"year": 2024, "month": 8, "date": 12, "hours": 6, "utc": true}, {"year": 2024, "month": 8, "date": 12, "hours": 7, "utc": true}, {"year": 2024, "month": 8, "date": 12, "hours": 9, "utc": true}, {"year": 2024, "month": 8, "date": 12, "hours": 10, "utc": true}, {"year": 2024, "month": 8, "date": 12, "hours": 11, "utc": true}, {"year": 2024, "month": 8, "date": 12, "hours": 13, "utc": true}, {"year": 2024, "month": 8, "date": 12, "hours": 14, "utc": true}, {"year": 2024, "month": 8, "date": 12, "hours": 15, "utc": true}, {"year": 2024, "month": 8, "date": 12, "hours": 17, "utc": true}, {"year": 2024, "month": 8, "date": 12, "hours": 18, "utc": true}, {"year": 2024, "month": 8, "date": 12, "hours": 19, "utc": true}, {"year": 2024, "month": 8, "date": 12, "hours": 21, "utc": true}, {"year": 2024, "month": 8, "date": 12, "hours": 22, "utc": true}, {"year": 2024, "month": 8, "date": 12, "hours": 23, "utc": true}]}},
        "y": {"field": "v", "type": "quantitative",
          "scale": {"domain": [0, 9500000000], "nice": false},
          "axis": {"orient": "right", "title": null, "labels": false, "domain": false, "grid": false, "tickSize": 7, "tickColor": "black", "offset": -7,
            "values": [0, 1000000000, 2000000000, 3000000000, 4000000000, 5000000000, 6000000000, 7000000000, 8000000000, 9000000000]}}
      }
    },
    {
      "mark": {"type": "point", "opacity": 0},
      "encoding": {
        "x": {"field": "t", "type": "temporal",
          "scale": {"type": "utc", "domain": [{"year": 2024, "month": 8, "date": 12, "hours": 0, "utc": true}, {"year": 2024, "month": 8, "date": 13, "hours": 0, "minutes": 10, "utc": true}]},
          "axis": {"orient": "top", "title": null, "labels": false, "domain": false, "grid": false, "tickSize": 8, "tickColor": "black", "offset": -8,
            "values": [{"year": 2024, "month": 8, "date": 12, "hours": 0, "utc": true}, {"year": 2024, "month": 8, "date": 12, "hours": 4, "utc": true}, {"year": 2024, "month": 8, "date": 12, "hours": 8, "utc": true}, {"year": 2024, "month": 8, "date": 12, "hours": 12, "utc": true}, {"year": 2024, "month": 8, "date": 12, "hours": 16, "utc": true}, {"year": 2024, "month": 8, "date": 12, "hours": 20, "utc": true}, {"year": 2024, "month": 8, "date": 13, "hours": 0, "utc": true}]}},
        "y": {"field": "v", "type": "quantitative", "scale": {"domain": [0, 9500000000], "nice": false}, "axis": null}
      }
    },
    {
      "mark": {"type": "point", "opacity": 0},
      "encoding": {
        "x": {"field": "t", "type": "temporal",
          "scale": {"type": "utc", "domain": [{"year": 2024, "month": 8, "date": 12, "hours": 0, "utc": true}, {"year": 2024, "month": 8, "date": 13, "hours": 0, "minutes": 10, "utc": true}]},
          "axis": {"orient": "top", "title": null, "labels": false, "domain": false, "grid": false, "tickSize": 4, "tickColor": "black", "offset": -8,
            "values": [{"year": 2024, "month": 8, "date": 12, "hours": 1, "utc": true}, {"year": 2024, "month": 8, "date": 12, "hours": 2, "utc": true}, {"year": 2024, "month": 8, "date": 12, "hours": 3, "utc": true}, {"year": 2024, "month": 8, "date": 12, "hours": 5, "utc": true}, {"year": 2024, "month": 8, "date": 12, "hours": 6, "utc": true}, {"year": 2024, "month": 8, "date": 12, "hours": 7, "utc": true}, {"year": 2024, "month": 8, "date": 12, "hours": 9, "utc": true}, {"year": 2024, "month": 8, "date": 12, "hours": 10, "utc": true}, {"year": 2024, "month": 8, "date": 12, "hours": 11, "utc": true}, {"year": 2024, "month": 8, "date": 12, "hours": 13, "utc": true}, {"year": 2024, "month": 8, "date": 12, "hours": 14, "utc": true}, {"year": 2024, "month": 8, "date": 12, "hours": 15, "utc": true}, {"year": 2024, "month": 8, "date": 12, "hours": 17, "utc": true}, {"year": 2024, "month": 8, "date": 12, "hours": 18, "utc": true}, {"year": 2024, "month": 8, "date": 12, "hours": 19, "utc": true}, {"year": 2024, "month": 8, "date": 12, "hours": 21, "utc": true}, {"year": 2024, "month": 8, "date": 12, "hours": 22, "utc": true}, {"year": 2024, "month": 8, "date": 12, "hours": 23, "utc": true}]}},
        "y": {"field": "v", "type": "quantitative", "scale": {"domain": [0, 9500000000], "nice": false}, "axis": null}
      }
    }
  ]
}
